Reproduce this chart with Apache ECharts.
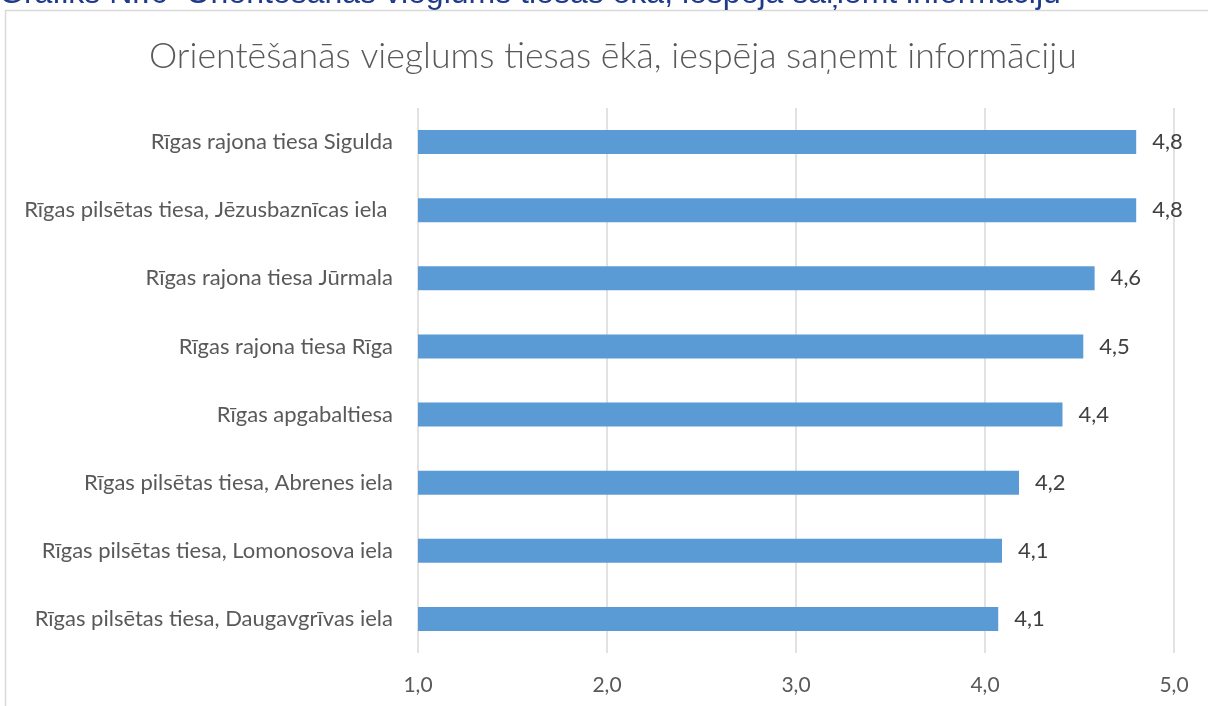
<!DOCTYPE html>
<html>
<head>
<meta charset="utf-8">
<script src="https://cdn.jsdelivr.net/npm/echarts@6/dist/echarts.min.js"></script>
<style>
html,body{margin:0;padding:0;background:#fff;}
#chart{width:1208px;height:706px;}
</style>
</head>
<body>
<div id="chart"></div>
<script>
const captionText = 'Grafiks Nr.6  Orientēšanās vieglums tiesas ēkā, iespēja saņemt informāciju';
const titleText = 'Orientēšanās vieglums tiesas ēkā, iespēja saņemt informāciju';
const categories = [
  'Rīgas rajona tiesa Sigulda',
  'Rīgas pilsētas tiesa, Jēzusbaznīcas iela ',
  'Rīgas rajona tiesa Jūrmala',
  'Rīgas rajona tiesa Rīga',
  'Rīgas apgabaltiesa',
  'Rīgas pilsētas tiesa, Abrenes iela',
  'Rīgas pilsētas tiesa, Lomonosova iela',
  'Rīgas pilsētas tiesa, Daugavgrīvas iela'
];
const values = [4.80, 4.80, 4.58, 4.52, 4.41, 4.18, 4.09, 4.07];
const axisMin = 1, axisMax = 5, axisStep = 1;

const fmt = v => Number(v).toFixed(1).replace('.', ',');
const chart = echarts.init(document.getElementById('chart'), null, {renderer: 'canvas'});
chart.setOption({
  backgroundColor: '#ffffff',
  animation: false,
  title: {
    text: titleText,
    left: 144,
    top: 33,
    textStyle: {fontFamily: 'Lato', fontWeight: 300, fontSize: 35.7, color: '#595959'}
  },
  graphic: [
    {type: 'rect', shape: {x: 5.5, y: 10.5, width: 1300, height: 800},
     style: {fill: 'none', stroke: '#d9d9d9', lineWidth: 1.5}, silent: true, z: -1},
    {type: 'text', x: -1, y: -6,
     style: {text: captionText, fill: '#1f3a8a', font: '32px "Liberation Sans"', verticalAlign: 'middle', align: 'left'}}
  ],
  grid: {left: 418, right: 34, top: 108, bottom: 53, containLabel: false},
  xAxis: {
    type: 'value', min: axisMin, max: axisMax, interval: axisStep,
    axisLine: {show: false}, axisTick: {show: false},
    splitLine: {show: true, lineStyle: {color: '#d9d9d9', width: 1.5}},
    axisLabel: {formatter: fmt, color: '#595959', fontFamily: 'Lato', fontSize: 21, margin: 22}
  },
  yAxis: {
    type: 'category', data: categories, inverse: true,
    axisLine: {show: false}, axisTick: {show: false},
    axisLabel: {color: '#595959', fontFamily: 'Lato', fontSize: 22, margin: 25}
  },
  series: [{
    type: 'bar', data: values, barWidth: 24,
    itemStyle: {color: '#5b9bd5'},
    label: {show: true, position: 'right', distance: 16, formatter: p => fmt(p.value),
            color: '#404040', fontFamily: 'Lato', fontSize: 22}
  }]
});
</script>
</body>
</html>
